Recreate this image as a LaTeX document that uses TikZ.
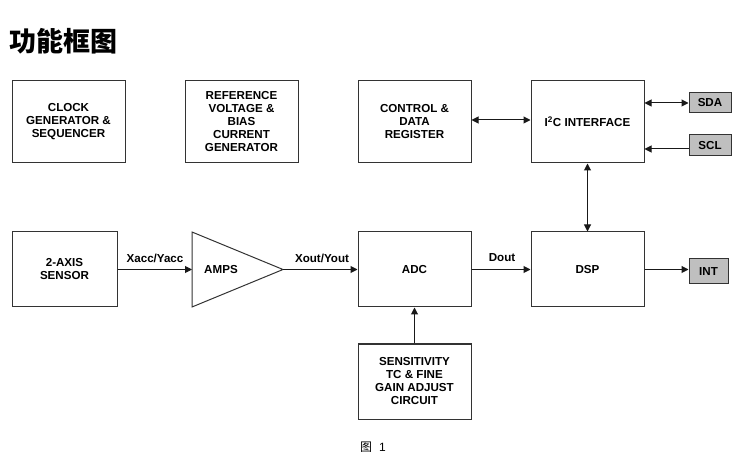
\documentclass[tikz,border=0pt]{standalone}
\usepackage{fontspec}
\setmainfont{Liberation Sans}
\newfontfamily\cjk{Noto Sans CJK SC}
\usetikzlibrary{arrows.meta}
\begin{document}
\begin{tikzpicture}[x=1pt,y=-1pt,
 blk/.style={draw=black!80, line width=1pt, align=center, font=\fontsize{11.6}{13}\selectfont\bfseries, inner sep=0pt, minimum width=113pt},
 pinbox/.style={draw=black!80, fill=black!25, line width=1pt, font=\fontsize{11.6}{13}\selectfont\bfseries, inner sep=0pt},
 tip/.tip={Triangle[length=7pt,width=7pt]},
 conn/.style={line width=1pt, draw=black!90, -tip},
 bconn/.style={line width=1pt, draw=black!90, tip-tip},
 lbl/.style={font=\fontsize{11.6}{13}\selectfont\bfseries}
]
\useasboundingbox (0,0) rectangle (739,462);
% title
\node[font=\cjk\bfseries\fontsize{27}{30}\selectfont, anchor=west] (title) at (6,41) {功能框图};
% top row
\node[blk, minimum height=82pt] (clock) at (68.5,122) {CLOCK\\GENERATOR \&\\SEQUENCER};
\node[blk, minimum height=82pt] (ref) at (241.5,122) {REFERENCE\\VOLTAGE \&\\BIAS\\CURRENT\\GENERATOR};
\node[blk, minimum height=82pt] (ctrl) at (414.5,122) {CONTROL \&\\DATA\\REGISTER};
\node[blk, minimum height=82pt] (i2c) at (587.5,122) {I\textsuperscript{2}C INTERFACE};
\node[pinbox, minimum width=42pt, minimum height=20pt] (sda) at (710,103) {SDA};
\node[pinbox, minimum width=42pt, minimum height=21pt] (scl) at (710,145.5) {SCL};
% middle row
\node[blk, minimum width=105pt, minimum height=75pt] (sensor) at (64.5,269.5) {2-AXIS\\SENSOR};
\draw[draw=black!80, line width=1pt] (192,232) -- (283,269.5) -- (192,307) -- cycle;
\coordinate (ampin) at (192,269.5);
\coordinate (ampout) at (283,269.5);
\node[lbl] (amps) at (221,269.5) {AMPS};
\node[blk, minimum height=75pt] (adc) at (414.5,269.5) {ADC};
\node[blk, minimum height=75pt] (dsp) at (587.5,269.5) {DSP};
\node[pinbox, minimum width=39pt, minimum height=25pt] (int) at (708.5,271.5) {INT};
% bottom
\node[blk, minimum height=75pt] (sens) at (414.5,381.5) {SENSITIVITY\\TC \& FINE\\GAIN ADJUST\\CIRCUIT};
% connectors
\draw[bconn] ([yshift=2pt]ctrl.east) -- ([yshift=2pt]i2c.west);
\draw[bconn] (i2c.east |- sda.west) -- (sda.west);
\draw[conn] ([yshift=-3.5pt]scl.west) -- ([yshift=-3.5pt]scl.west -| i2c.east);
\draw[bconn] (i2c.south) -- (dsp.north);
\draw[conn] (sensor.east) -- (ampin);
\draw[conn] (ampout) -- (adc.west);
\draw[conn] (adc.east) -- (dsp.west);
\draw[conn] (dsp.east) -- (dsp.east -| int.west);
\draw[conn] (sens.north) -- (adc.south);
% labels
\node[lbl] (l1) at (155,258) {Xacc/Yacc};
\node[lbl] (l2) at (322,258) {Xout/Yout};
\node[lbl] (l3) at (502,258) {Dout};
% caption
\node[font=\fontsize{12}{14}\selectfont] (cap) at (373,447) {{\cjk 图}\hspace{7pt}1};
\end{tikzpicture}
\end{document}
